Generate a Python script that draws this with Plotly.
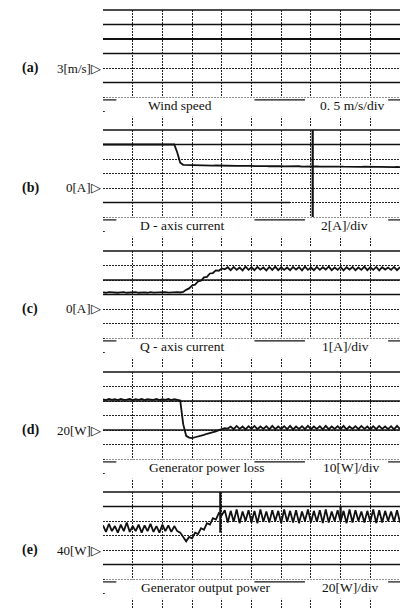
import plotly.graph_objects as go

# ---------------- data (time axis in screen divisions) ----------------
t_div = [0.0, 0.1, 0.2, 0.3, 0.4, 0.5, 0.6, 0.7, 0.8, 0.9,
         1.0, 1.1, 1.2, 1.3, 1.4, 1.5, 1.6, 1.7, 1.8, 1.9,
         2.0, 2.1, 2.2, 2.3, 2.4, 2.5, 2.6, 2.7, 2.8, 2.9,
         3.0, 3.1, 3.2, 3.3, 3.4, 3.5, 3.6, 3.7, 3.8, 3.9,
         4.0, 4.1, 4.2, 4.3, 4.4, 4.5, 4.6, 4.7, 4.8, 4.9,
         5.0, 5.1, 5.2, 5.3, 5.4, 5.5, 5.6, 5.7, 5.8, 5.9,
         6.0, 6.1, 6.2, 6.3, 6.4, 6.5, 6.6, 6.7, 6.8, 6.9,
         7.0, 7.1, 7.2, 7.3, 7.4, 7.5, 7.6, 7.7, 7.8, 7.9,
         8.0, 8.1, 8.2, 8.3, 8.4, 8.5, 8.6, 8.7, 8.8, 8.9,
         9.0, 9.1, 9.2, 9.3, 9.4, 9.5, 9.6, 9.7, 9.8, 9.9, 10.0]

# (a) wind speed [m/s]
wind_t = [0.0, 10.0]
wind_speed = [4.0, 4.0]

# (b) D-axis current [A]
d_current = [6.0, 6.02, 6.0, 5.98, 6.0, 6.02, 6.0, 6.0, 5.98, 6.0,
             6.02, 6.0, 6.0, 5.98, 6.0, 6.02, 6.0, 5.98, 6.0, 6.0,
             6.02, 6.0, 5.98, 6.0, 6.0, 4.9, 3.5, 3.2,
             3.18, 3.15, 3.16, 3.12, 3.14, 3.12, 3.1, 3.12, 3.1, 3.08,
             3.1, 3.08, 3.1, 3.06, 3.08, 3.05, 3.08, 3.06, 3.04, 3.06,
             3.04, 3.02, 3.05, 3.02, 3.04, 3.0, 3.03, 3.01, 3.0, 3.02,
             3.0, 2.98, 3.01, 2.98, 3.0, 2.97, 2.99, 2.97, 3.0, 2.96,
             2.98, 2.96, 2.99, 2.95, 2.97, 2.95, 2.98, 2.94, 2.96, 2.94,
             2.97, 2.93, 2.96, 2.94, 2.92, 2.95, 2.93, 2.92, 2.94, 2.91,
             2.93, 2.9, 2.93, 2.91, 2.9, 2.92, 2.9, 2.89, 2.92, 2.9,
             2.88, 2.91, 2.89]

# (c) Q-axis current [A]
q_current = [1.15, 1.12, 1.16, 1.13, 1.15, 1.12, 1.14, 1.16, 1.12, 1.15,
             1.13, 1.16, 1.12, 1.14, 1.15, 1.12, 1.16, 1.13, 1.15, 1.12,
             1.14, 1.16, 1.13, 1.15, 1.12, 1.16, 1.14, 1.18,
             1.32, 1.42, 1.62, 1.68, 1.9, 1.95, 2.18, 2.22, 2.45, 2.48,
             2.66, 2.64, 2.8, 2.74,
             2.88, 2.68, 2.9, 2.7, 2.86, 2.66, 2.92, 2.7, 2.88, 2.68,
             2.9, 2.72, 2.86, 2.66, 2.9, 2.7, 2.92, 2.68, 2.88, 2.7,
             2.86, 2.68, 2.9, 2.72, 2.88, 2.66, 2.92, 2.7, 2.86, 2.68,
             2.9, 2.7, 2.88, 2.72, 2.92, 2.68, 2.86, 2.7, 2.9, 2.66,
             2.88, 2.72, 2.9, 2.68, 2.86, 2.7, 2.92, 2.68, 2.88, 2.7,
             2.9, 2.66, 2.88, 2.72, 2.86, 2.7, 2.9, 2.68, 2.88]

# (d) generator power loss [W]
power_loss = [41.2, 40.6, 41.4, 40.8, 41.2, 40.6, 41.4, 40.8, 41.0, 41.4,
              40.6, 41.2, 40.8, 41.4, 40.6, 41.2, 41.0, 40.8, 41.4, 40.6,
              41.2, 40.8, 41.4, 40.6, 41.2, 40.8, 40.4, 24.0,
              16.0, 14.8, 14.4, 15.0, 15.4, 16.2, 16.6, 17.4, 17.8, 18.6,
              19.0, 19.9, 20.4, 21.2, 21.0,
              22.4, 20.6, 22.8, 20.8, 22.4, 20.4, 22.6, 20.8, 22.8, 20.6,
              22.4, 20.8, 22.6, 20.4, 22.8, 20.6, 22.4, 20.8, 22.6, 20.6,
              22.8, 20.4, 22.4, 20.8, 22.6, 20.6, 22.8, 20.6, 22.4, 20.8,
              22.6, 20.4, 22.8, 20.6, 22.4, 20.8, 22.6, 20.6, 22.8, 20.4,
              22.4, 20.8, 22.6, 20.6, 22.8, 20.8, 22.4, 20.4, 22.6, 20.6,
              22.8, 20.8, 22.4, 20.6, 22.6, 20.4, 22.8, 20.6]

# (e) generator output power [W]
output_power = [74, 65, 76, 66, 73, 64, 75, 66, 78, 65,
                73, 66, 75, 64, 74, 66, 76, 65, 73, 64,
                75, 66, 74, 65, 73, 66, 64, 57,
                52, 58, 56, 64, 62, 70, 68, 77, 75, 84, 82, 91, 88,
                95, 78, 94, 79, 96, 77, 93, 80, 95, 78,
                94, 77, 96, 79, 93, 78, 95, 80, 94, 77,
                96, 79, 94, 78, 95, 77, 93, 80, 96, 78,
                94, 79, 95, 77, 96, 78, 93, 80, 95, 79,
                94, 77, 96, 78, 95, 80, 93, 78, 94, 79,
                96, 77, 95, 78, 94, 80, 93, 79, 95, 78]

# other horizontal traces on each screen (value levels)
levels_a = [4.5, 3.5, 2.5]
levels_b = [6.0]
partial_b_t = [0.0, 6.3]
partial_b = [-2.0, -2.0]
levels_c = [2.0, 1.0]
levels_d = [40.0, 20.0]
levels_e = [100.0, 20.0]

# cursors (time in div, value span)
cursor_b_t = [7.06, 7.06]
cursor_b = [8.0, -4.0]
cursor_e_t = [3.95, 3.95]
cursor_e = [120.0, 64.0]
cursor_e2_t = [8.0, 8.0]
cursor_e2 = [100.0, 84.0]

panel_letters = ["(a)", "(b)", "(c)", "(d)", "(e)"]
zero_labels = ["3[m/s]", "0[A]", "0[A]", "20[W]", "40[W]"]
titles = ["Wind speed", "D - axis current", "Q - axis current",
          "Generator power loss", "Generator output power"]
scales = ["0. 5 m/s/div", "2[A]/div", "1[A]/div", "10[W]/div", "20[W]/div"]
centers = [3.0, 0.0, 0.0, 20.0, 40.0]
per_div = [0.5, 2.0, 1.0, 10.0, 20.0]

# ---------------- figure ----------------
W, H = 400, 608
tops = [10, 130, 251, 372, 492]
PH = 116
x_dom = [103 / W, 1.0]
title_x = [2.6, 2.67, 2.67, 3.5, 3.45]
scale_x = [8.4, 8.14, 8.17, 8.35, 8.3]

FONT = "Liberation Serif, Times New Roman, serif"
INK = "#111111"
GRID = "#222222"
GDASH = "1.5px,1.5px"

fig = go.Figure()
series = [(wind_t, wind_speed), (t_div, d_current), (t_div, q_current),
          (t_div, power_loss), (t_div, output_power)]
levels = [levels_a, levels_b, levels_c, levels_d, levels_e]

shapes = []
annotations = []
layout_axes = {}
for i in range(5):
    n = i + 1
    sfx = "" if n == 1 else str(n)
    xa, ya = "x" + sfx, "y" + sfx
    top = tops[i]
    bot = top + PH
    dom = [max(0.0, 1 - bot / H), 1 - top / H]
    lo = centers[i] - 4 * per_div[i]
    hi = centers[i] + 4 * per_div[i]
    layout_axes["xaxis" + sfx] = dict(
        domain=x_dom, range=[0, 10], dtick=1, tick0=0, showgrid=True,
        gridcolor=GRID, griddash=GDASH, gridwidth=1, showticklabels=False,
        ticks="", zeroline=False, showline=False, anchor=ya, fixedrange=True)
    layout_axes["yaxis" + sfx] = dict(
        domain=dom, range=[lo, hi], dtick=per_div[i], tick0=centers[i],
        showgrid=True, gridcolor=GRID, griddash=GDASH, gridwidth=1,
        showticklabels=False, ticks="", zeroline=False, showline=False,
        anchor=xa, fixedrange=True)

    # other channel level lines
    for lv in levels[i]:
        fig.add_trace(go.Scatter(x=[0, 10], y=[lv, lv], mode="lines",
                                 line=dict(color=INK, width=1.3),
                                 xaxis=xa, yaxis=ya, hoverinfo="skip"))
    # main waveform
    tx, vy = series[i]
    fig.add_trace(go.Scatter(x=tx, y=vy, mode="lines",
                             line=dict(color=INK, width=2.2 if i == 0 else 1.8),
                             xaxis=xa, yaxis=ya, hoverinfo="skip"))

    # top border of the screen
    shapes.append(dict(type="line", xref=xa + " domain", yref=ya + " domain",
                       x0=0, x1=1, y0=1, y1=1,
                       line=dict(color=INK, width=1.5)))
    # label band (covers the graticule behind the labels)
    shapes.append(dict(type="rect", xref=xa + " domain", yref=ya + " domain",
                       x0=0.006, x1=1, y0=0.08, y1=0.245, fillcolor="white",
                       line=dict(width=0), layer="above"))
    for (s0, s1) in [(0.0, 0.045), (0.51, 0.68), (0.96, 1.0)]:
        shapes.append(dict(type="line", xref=xa + " domain", yref=ya + " domain",
                           x0=s0, x1=s1, y0=0.225, y1=0.225, layer="above",
                           line=dict(color=INK, width=1.2)))

    annotations.append(dict(text=panel_letters[i], xref="paper", yref=ya + " domain",
                            x=0.075, y=0.5, showarrow=False, xanchor="center",
                            yanchor="middle",
                            font=dict(family=FONT, size=14, color=INK, weight="bold")))
    annotations.append(dict(text=zero_labels[i] + "\u25b7", xref="paper",
                            yref=ya + " domain", x=103 / W, y=0.5, showarrow=False,
                            xanchor="right", yanchor="middle",
                            font=dict(family=FONT, size=13, color=INK)))
    annotations.append(dict(text=titles[i], xref=xa, yref=ya + " domain",
                            x=title_x[i], y=0.18, showarrow=False,
                            xanchor="center", yanchor="middle",
                            font=dict(family=FONT, size=13.5, color=INK)))
    annotations.append(dict(text=scales[i], xref=xa, yref=ya + " domain",
                            x=scale_x[i], y=0.18, showarrow=False,
                            xanchor="center", yanchor="middle",
                            font=dict(family=FONT, size=13.5, color=INK)))

# partial level line and cursors
fig.add_trace(go.Scatter(x=partial_b_t, y=partial_b, mode="lines",
                         line=dict(color=INK, width=1.3), xaxis="x2", yaxis="y2",
                         hoverinfo="skip"))
fig.add_trace(go.Scatter(x=cursor_b_t, y=cursor_b, mode="lines",
                         line=dict(color=INK, width=2.2), xaxis="x2", yaxis="y2",
                         hoverinfo="skip"))
fig.add_trace(go.Scatter(x=cursor_e_t, y=cursor_e, mode="lines",
                         line=dict(color=INK, width=2.2), xaxis="x5", yaxis="y5",
                         hoverinfo="skip"))
fig.add_trace(go.Scatter(x=cursor_e2_t, y=cursor_e2, mode="lines",
                         line=dict(color=INK, width=2.2), xaxis="x5", yaxis="y5",
                         hoverinfo="skip"))

fig.update_layout(width=W, height=H, margin=dict(l=0, r=0, t=0, b=0),
                  paper_bgcolor="white", plot_bgcolor="white", showlegend=False,
                  shapes=shapes, annotations=annotations, **layout_axes)

fig.write_html("out.html", config={"displayModeBar": False},
               post_script="document.body.style.margin='0';")
